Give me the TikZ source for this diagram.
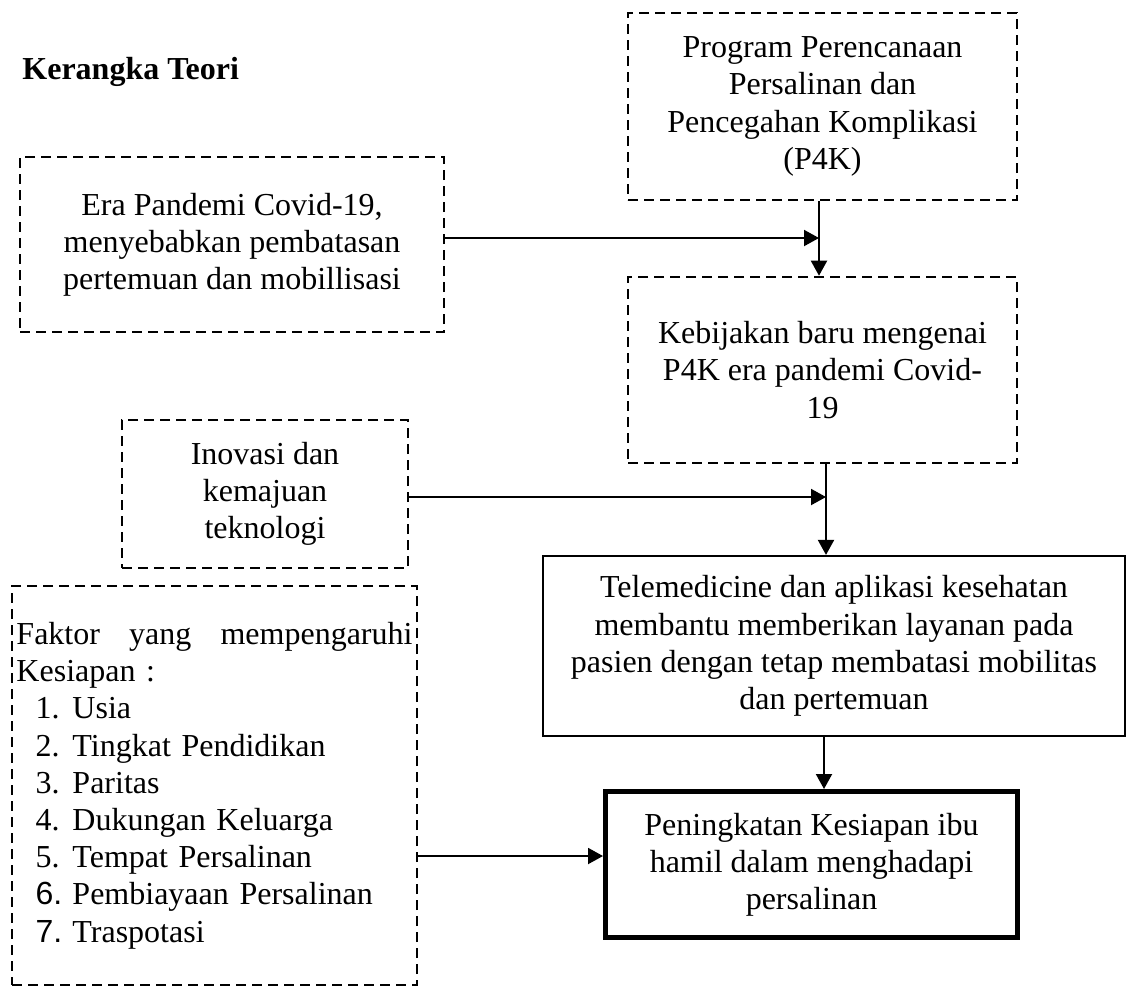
\documentclass[tikz,border=0pt]{standalone}
\usepackage{fontspec}
\setmainfont{Liberation Serif}
\newfontfamily\arialfont{Liberation Sans}
\usetikzlibrary{arrows.meta}
\newcommand{\faktoritem}[2]{\hspace*{9.5pt}\makebox[18.5pt][l]{#1}#2}

\begin{document}
\begin{tikzpicture}[
    x=0.5pt,y=-0.5pt,
    every node/.style={font=\fontsize{16}{18.6}\selectfont},
    dbox/.style={draw,dash pattern=on 5pt off 3pt,line width=1.3pt,inner sep=0pt,align=center},
    sbox/.style={draw,line width=1.1pt,inner sep=0pt,align=center},
    arr/.style={-{Triangle[length=7.5pt,width=8pt]},line width=1pt}
  ]
    \useasboundingbox (0,0) rectangle (1130,987);
    \node[anchor=base west,inner sep=0pt,font=\fontsize{16}{18.6}\selectfont\bfseries] (title) at (22,79) {Kerangka Teori};
    \node[dbox,minimum width=194.5pt,minimum height=93.5pt] (p4k) at (822.5,106.5) {Program Perencanaan\\Persalinan dan\\Pencegahan Komplikasi\\(P4K)};
    \node[dbox,minimum width=212pt,minimum height=87.5pt] (era) at (232,244.5) {Era Pandemi Covid-19,\\menyebabkan pembatasan\\pertemuan dan mobillisasi};
    \node[dbox,minimum width=194.5pt,minimum height=93pt] (kebijakan) at (822.5,370) {Kebijakan baru mengenai\\P4K era pandemi Covid-\\19};
    \node[dbox,minimum width=143pt,minimum height=74pt] (inovasi) at (265,494) {Inovasi dan\\kemajuan\\teknologi};
    \node[sbox,minimum width=291pt,minimum height=90pt] (telemed) at (834,646) {Telemedicine dan aplikasi kesehatan\\membantu memberikan layanan pada\\pasien dengan tetap membatasi mobilitas\\dan pertemuan};
    \node[dbox,align=left,text width=198pt,minimum width=202.5pt,minimum height=199.5pt] (faktor) at (214.5,785.5) {\makebox[198pt][l]{Faktor\hfill yang\hfill mempengaruhi}\\Kesiapan :\\\faktoritem{1.}{Usia}\\\faktoritem{2.}{Tingkat Pendidikan}\\\faktoritem{3.}{Paritas}\\\faktoritem{4.}{Dukungan Keluarga}\\\faktoritem{5.}{Tempat Persalinan}\\\faktoritem{{\arialfont 6.}}{Pembiayaan Persalinan}\\\faktoritem{{\arialfont 7.}}{Traspotasi}};
    \node[sbox,line width=2.5pt,minimum width=206pt,minimum height=73pt] (pening) at (811.5,864.5) {Peningkatan Kesiapan ibu\\hamil dalam menghadapi\\persalinan};
    \coordinate (j1) at (819,238);
    \coordinate (j2) at (826,497);
    \coordinate (j3) at (824,764);
    \coordinate (j4) at (420,856);
    \draw[arr] (p4k.south -| j1) -- (kebijakan.north -| j1);
    \draw[arr] (era.east |- j1) -- (j1);
    \draw[arr] (kebijakan.south -| j2) -- (telemed.north -| j2);
    \draw[arr] (inovasi.east |- j2) -- (j2);
    \draw[arr] (telemed.south -| j3) -- (pening.north -| j3);
    \draw[arr] (faktor.east |- j4) -- (pening.west |- j4);
  \end{tikzpicture}
\end{document}
